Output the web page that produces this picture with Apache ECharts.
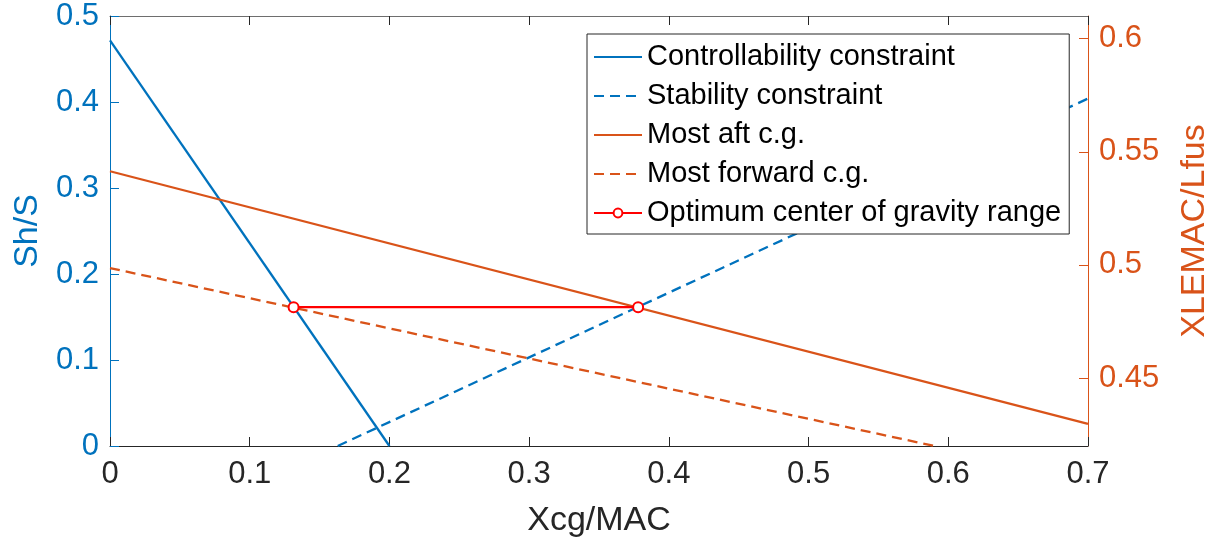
<!DOCTYPE html>
<html>
<head>
<meta charset="utf-8">
<script src="https://cdn.jsdelivr.net/npm/echarts@6/dist/echarts.min.js"></script>
<style>
  html, body { margin: 0; padding: 0; background: #fff; }
  #chart { width: 1220px; height: 546px; }
</style>
</head>
<body>
<div id="chart"></div>
<script>
// MATLAB default palette
const BLUE = '#0072BD';
const ORANGE = '#D95319';
const RED = '#FF0000';
const DARK = '#262626';
const FONT = "'Liberation Sans', Arial, sans-serif";

// data (left axis: Sh/S, right axis: XLEMAC/Lfus)
const xTicks = [0, 0.1, 0.2, 0.3, 0.4, 0.5, 0.6, 0.7];
const rightTicks = [0.45, 0.5, 0.55, 0.6];

const ctrlX = [0, 0.2];
const ctrlY = [0.4716, 0];
const stabX = [0.163, 0.7];
const stabY = [0, 0.404];
const aftX = [0, 0.7];
const aftY = [0.5414, 0.4298];
const fwdX = [0, 0.59];
const fwdY = [0.4986, 0.42];
const optX = [0.1314, 0.378];
const optY = [0.1614, 0.1614];

const names = [
  'Controllability constraint',
  'Stability constraint',
  'Most aft c.g.',
  'Most forward c.g.',
  'Optimum center of gravity range',
];

function pairs(xs, ys) {
  return xs.map((x, i) => [x, ys[i]]);
}

function lineSeries(name, xs, ys, color, dashed, yIdx) {
  return {
    name,
    type: 'line',
    yAxisIndex: yIdx || 0,
    data: pairs(xs, ys),
    symbol: 'none',
    showSymbol: false,
    lineStyle: { color, width: 2.3, type: dashed ? [10, 6] : 'solid' },
    itemStyle: { color },
    z: 3,
  };
}

// 图例：前四项只画线（符号透明），最后一项带空心圆
const legendData = names.map((n, i) => (i < 4
  ? { name: n, itemStyle: { color: 'rgba(0,0,0,0)', borderWidth: 0, opacity: 0 } }
  : { name: n }));

const chart = echarts.init(document.getElementById('chart'));
chart.setOption({
  animation: false,
  backgroundColor: '#fff',
  textStyle: { fontFamily: FONT },
  grid: { left: 110, right: 131, top: 16, bottom: 100, containLabel: false },
  legend: {
    orient: 'vertical',
    left: 587,
    top: 34,
    itemWidth: 48,
    itemHeight: 11,
    itemGap: 9,
    padding: [8, 8, 6, 6],
    backgroundColor: '#fff',
    borderColor: DARK,
    borderWidth: 1,
    borderRadius: 0,
    z: 10,
    data: legendData,
    textStyle: { fontSize: 29, color: '#000', lineHeight: 30, fontFamily: FONT },
  },
  xAxis: [
    {
      type: 'value',
      min: 0, max: 0.7, interval: 0.1,
      name: 'Xcg/MAC',
      nameLocation: 'middle',
      nameGap: 58,
      nameTextStyle: { fontSize: 34, color: DARK },
      axisLine: { show: true, onZero: false, lineStyle: { color: DARK, width: 1 } },
      axisTick: { show: true, inside: true, length: 9, lineStyle: { color: DARK } },
      axisLabel: { color: DARK, fontSize: 31, margin: 13 },
      splitLine: { show: false },
    },
    {
      type: 'value',
      position: 'top',
      min: 0, max: 0.7, interval: 0.1,
      axisLine: { show: true, onZero: false, lineStyle: { color: '#6e6e6e', width: 1 } },
      axisTick: { show: true, inside: true, length: 9, lineStyle: { color: DARK } },
      axisLabel: { show: false },
      splitLine: { show: false },
    },
  ],
  yAxis: [
    {
      type: 'value',
      min: 0, max: 0.5, interval: 0.1,
      name: 'Sh/S',
      nameLocation: 'middle',
      nameGap: 60,
      nameTextStyle: { fontSize: 34, color: BLUE },
      axisLine: { show: true, onZero: false, lineStyle: { color: BLUE, width: 1 } },
      axisTick: { show: true, inside: true, length: 9, lineStyle: { color: BLUE } },
      axisLabel: { color: BLUE, fontSize: 31, margin: 11 },
      splitLine: { show: false },
    },
    {
      type: 'value',
      position: 'right',
      min: 0.42, max: 0.61,
      name: 'XLEMAC/Lfus',
      nameLocation: 'middle',
      nameGap: 90,
      nameTextStyle: { fontSize: 34, color: ORANGE },
      axisLine: { show: true, onZero: false, lineStyle: { color: ORANGE, width: 1 } },
      axisTick: { show: true, inside: true, length: 9, customValues: rightTicks, lineStyle: { color: ORANGE } },
      axisLabel: { color: ORANGE, fontSize: 31, margin: 11, customValues: rightTicks },
      splitLine: { show: false },
    },
  ],
  series: [
    lineSeries(names[0], ctrlX, ctrlY, BLUE, false, 0),
    lineSeries(names[1], stabX, stabY, BLUE, true, 0),
    lineSeries(names[2], aftX, aftY, ORANGE, false, 1),
    lineSeries(names[3], fwdX, fwdY, ORANGE, true, 1),
    {
      name: names[4],
      type: 'line',
      data: pairs(optX, optY),
      symbol: 'emptyCircle',
      symbolSize: 10,
      showSymbol: true,
      lineStyle: { color: RED, width: 2.3 },
      itemStyle: { color: RED, borderColor: RED, borderWidth: 2 },
      z: 4,
    },
  ],
});
</script>
</body>
</html>
